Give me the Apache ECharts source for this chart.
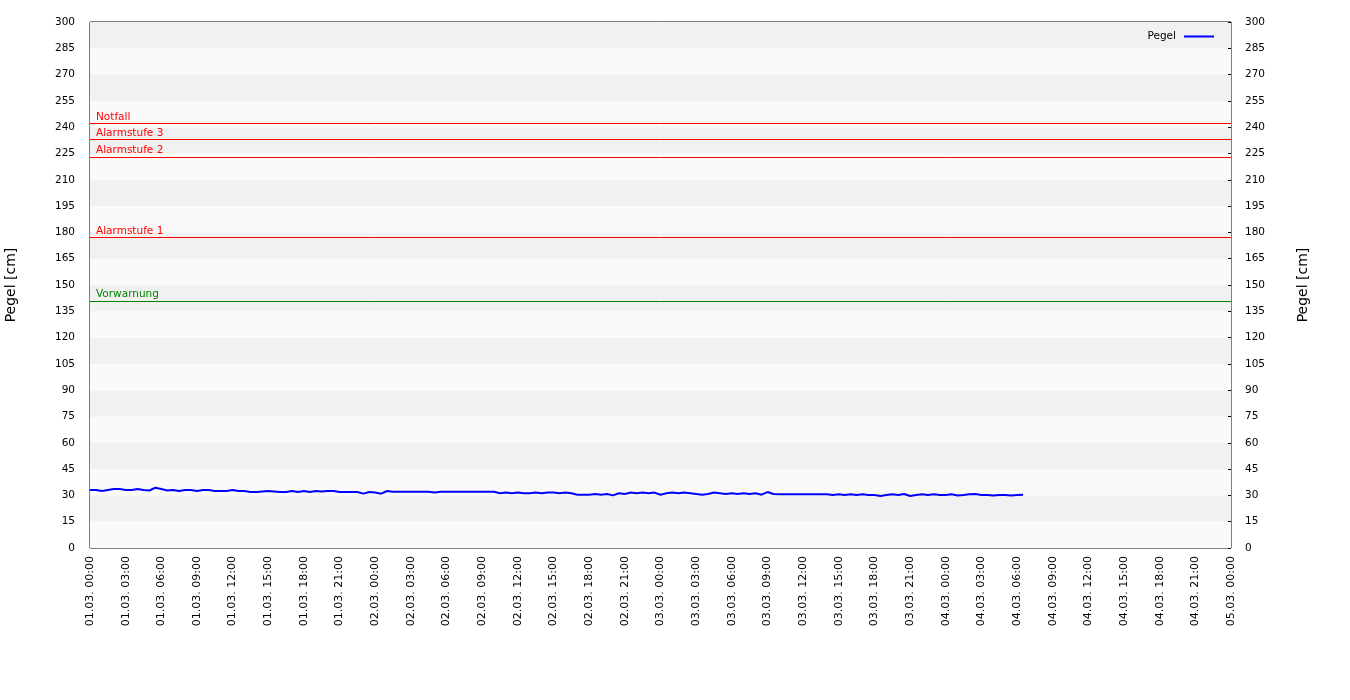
<!DOCTYPE html>
<html>
<head>
<meta charset="utf-8">
<script src="https://cdn.jsdelivr.net/npm/echarts@6/dist/echarts.min.js"></script>
<style>
html,body{margin:0;padding:0;background:#fff;}
#chart{width:1350px;height:700px;}
</style>
</head>
<body>
<div id="chart"></div>
<script>
// ---- data ----
const startDay = 1;            // 01.03.
const month = '03';
const sampleStepHours = 0.5;   // readings every 30 minutes
const pegelValues = [
  33.1,33.1,32.5,33.1,33.6,33.6,33.1,33.1,33.6,33.1,32.8,34.4,33.6,32.8,33.1,32.5,
  33.1,33.1,32.5,33.1,33.1,32.5,32.5,32.5,33.1,32.5,32.5,31.9,31.9,32.2,32.5,32.2,
  31.9,31.9,32.5,31.9,32.5,31.9,32.5,32.2,32.5,32.5,31.9,31.9,31.9,31.9,31.0,31.9,
  31.6,31.0,32.5,32.1,32.1,32.1,32.1,32.1,32.1,32.1,31.6,32.1,32.1,32.1,32.1,32.1,
  32.1,32.1,32.1,32.1,32.1,31.2,31.6,31.2,31.6,31.2,31.2,31.6,31.2,31.6,31.6,31.2,
  31.6,31.2,30.4,30.4,30.4,30.8,30.4,30.8,30.0,31.2,30.8,31.6,31.2,31.6,31.2,31.6,
  30.4,31.2,31.6,31.2,31.6,31.2,30.8,30.4,30.8,31.6,31.2,30.8,31.2,30.8,31.2,30.8,
  31.2,30.4,31.9,30.8,30.6,30.6,30.6,30.6,30.6,30.6,30.6,30.6,30.6,30.2,30.6,30.2,
  30.6,30.2,30.6,30.2,30.2,29.7,30.2,30.6,30.2,30.8,29.7,30.2,30.6,30.2,30.6,30.2,
  30.2,30.6,29.9,30.2,30.6,30.8,30.2,30.2,29.9,30.2,30.2,29.9,30.2,30.4
];
const thresholdNames  = ['Notfall','Alarmstufe 3','Alarmstufe 2','Alarmstufe 1','Vorwarnung'];
const thresholdValues = [242, 233, 223, 177, 141];
const thresholdColors = ['#ff0000','#ff0000','#ff0000','#ff0000','#008000'];
const yMin = 0, yMax = 300, yStep = 15;
const xHoursMax = 96, xStepHours = 3;

function pad(n){return (n<10?'0':'')+n;}
function hourLabel(h){
  const d = startDay + Math.floor(h/24);
  const hh = Math.round(h - Math.floor(h/24)*24);
  return pad(d)+'.'+month+'. '+pad(hh)+':00';
}

const seriesData = pegelValues.map((v,i)=>[i*sampleStepHours, v]);

const FONT = 'DejaVu Sans';
const chart = echarts.init(document.getElementById('chart'), null, {renderer:'canvas'});

// one helper series per threshold, each carrying its own coloured markLine
const thresholdSeries = thresholdValues.map((v,i)=>({
  name:'_t'+i, type:'line', data:[], yAxisIndex:0, silent:true,
  color:thresholdColors[i],
  z:2,
  markLine:{
    silent:true, symbol:['none','none'], animation:false,
    lineStyle:{color:thresholdColors[i], width:1, type:'solid', opacity:1},
    label:{
      show:true, formatter:thresholdNames[i], position:'insideStartTop',
      color:thresholdColors[i], fontFamily:FONT, fontSize:10.5, distance:[6,1]
    },
    emphasis:{disabled:true},
    data:[{yAxis:v}]
  }
}));

const yAxisCommon = {
  type:'value', min:yMin, max:yMax, interval:yStep,
  name:'Pegel [cm]', nameLocation:'middle',
  nameTextStyle:{fontFamily:FONT, fontSize:14, color:'#000'},
  axisLine:{show:false},
  axisLabel:{fontFamily:FONT, fontSize:10.5, color:'#000'},
};

chart.setOption({
  backgroundColor:'#ffffff',
  animation:false,
  textStyle:{fontFamily:FONT},
  grid:{left:90, right:119, top:22, bottom:152, show:true, borderColor:'#000', borderWidth:1,
        backgroundColor:'transparent', containLabel:false, outerBoundsMode:'none'},
  legend:{
    show:true, right:131, top:26, align:'right',
    itemWidth:30, itemHeight:2, icon:'rect',
    textStyle:{fontFamily:FONT, fontSize:10.5, color:'#000', padding:[0,3,0,0]},
    data:[{name:'Pegel', icon:'rect'}]
  },
  xAxis:{
    type:'value', min:0, max:xHoursMax, interval:xStepHours,
    axisLine:{show:false},
    axisTick:{show:false},
    splitLine:{show:false},
    axisLabel:{rotate:90, fontFamily:FONT, fontSize:11, color:'#000', margin:8,
      formatter:(v)=>hourLabel(v), showMinLabel:true, showMaxLabel:true}
  },
  yAxis:[
    Object.assign({}, yAxisCommon, {
      position:'left', nameGap:72,
      axisTick:{show:false},
      axisLabel:Object.assign({}, yAxisCommon.axisLabel, {margin:15}),
      splitLine:{show:false},
      splitArea:{show:true, areaStyle:{color:['#fafafa','#f1f1f1']}}
    }),
    Object.assign({}, yAxisCommon, {
      position:'right', nameGap:65,
      axisTick:{show:true, inside:true, length:3, lineStyle:{color:'#000'}},
      axisLabel:Object.assign({}, yAxisCommon.axisLabel, {margin:14}),
      splitLine:{show:false},
      splitArea:{show:false}
    })
  ],
  series:[{
    name:'Pegel', type:'line', yAxisIndex:0,
    data:seriesData, showSymbol:false, symbol:'none',
    lineStyle:{color:'#0000ff', width:2},
    itemStyle:{color:'#0000ff'},
    z:3
  }].concat(thresholdSeries)
});
</script>
</body>
</html>
